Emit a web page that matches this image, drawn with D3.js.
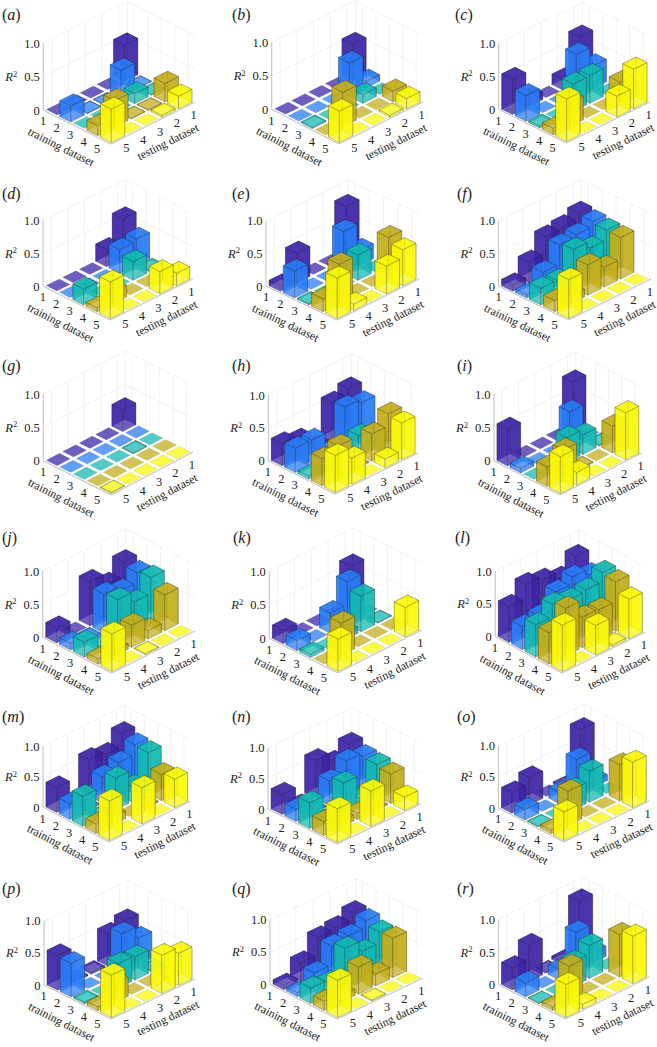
<!DOCTYPE html>
<html>
<head>
<meta charset="utf-8">
<script src="https://cdn.jsdelivr.net/npm/d3@7/dist/d3.min.js"></script>
<style>
	html, body { margin: 0; padding: 0; background: #fff; }
	text { font-family: "Liberation Serif", "Times New Roman", serif; fill: #222; }
</style>
</head>
<body>
<div id="chart"></div>
<script>
// categories and ticks
var panelLetters = ["a", "b", "c", "d", "e", "f", "g", "h", "i", "j", "k", "l", "m", "n", "o", "p", "q", "r"];
var trainingTicks = [1, 2, 3, 4, 5];
var testingTicks = [5, 4, 3, 2, 1];
var r2Ticks = [0, 0.5, 1];

// R2 values, one row per training dataset, columns are testing dataset 1..5
var r2_a = [[.55,.005,.005,.005,.005],[.01,.40,.01,.01,.24],[.01,.15,.005,.005,.005],[.28,.01,.01,.40,.15],[.19,.03,.005,.005,.50]];
var r2_b = [[.55,.005,.005,.005,.005],[.10,.50,.005,.005,.005],[.005,.13,.005,.005,.02],[.16,.005,.005,.52,.005],[.155,.03,.005,.005,.47]];
var r2_c = [[.68,.16,.005,.12,.535],[.345,.64,.005,.005,.39],[.005,.425,.42,.005,.03],[.30,.005,.005,.36,.10],[.60,.315,.005,.005,.645]];
var r2_d = [[.61,.265,.005,.005,.005],[.40,.365,.005,.005,.005],[.03,.285,.005,.005,.24],[.01,.005,.005,.18,.06],[.19,.34,.005,.005,.56]];
var r2_e = [[.80,.005,.005,.46,.085],[.23,.645,.005,.005,.415],[.005,.385,.005,.005,.02],[.635,.005,.005,.60,.195],[.55,.425,.005,.095,.62]];
var r2_f = [[.695,.615,.585,.325,.10],[.67,.595,.56,.27,.055],[.645,.495,.60,.25,.255],[.635,.305,.465,.12,.17],[.005,.005,.005,.005,.595]];
var r2_g = [[.325,.005,.005,.005,.005],[.005,.005,.005,.005,.005],[.005,.015,.005,.005,.005],[.005,.005,.005,.005,.005],[.005,.005,.005,.005,.015]];
var r2_h = [[.675,.585,.05,.27,.34],[.565,.625,.02,.37,.37],[.02,.29,.02,.02,.05],[.595,.415,.02,.485,.415],[.56,.135,.005,.40,.565]];
var r2_i = [[.76,.005,.005,.005,.555],[.005,.54,.005,.005,.07],[.02,.295,.38,.02,.005],[.405,.005,.02,.425,.30],[.71,.005,.005,.19,.555]];
var r2_j = [[.715,.50,.67,.005,.22],[.66,.51,.59,.03,.10],[.695,.455,.615,.03,.225],[.54,.13,.335,.08,.08],[.005,.005,.015,.005,.565]];
var r2_k = [[.64,.005,.005,.005,.195],[.005,.64,.305,.005,.15],[.01,.53,.10,.005,.05],[.005,.005,.005,.485,.005],[.44,.005,.005,.005,.48]];
var r2_l = [[.805,.60,.695,.755,.545],[.64,.73,.63,.385,.35],[.785,.645,.62,.675,.49],[.755,.455,.465,.725,.48],[.60,.03,.45,.005,.705]];
var r2_m = [[.76,.55,.60,.005,.405],[.69,.53,.435,.02,.26],[.675,.25,.525,.02,.495],[.43,.02,.005,.13,.155],[.47,.005,.60,.005,.65]];
var r2_n = [[.625,.46,.62,.01,.33],[.54,.60,.40,.02,.20],[.52,.10,.48,.02,.42],[.48,.02,.10,.10,.23],[.22,.005,.58,.005,.55]];
var r2_o = [[.82,.02,.005,.44,.33],[.10,.58,.18,.005,.17],[.005,.50,.34,.005,.01],[.58,.005,.005,.55,.06],[.73,.005,.005,.005,.46]];
var r2_p = [[.585,.50,.03,.02,.54],[.42,.615,.005,.005,.525],[.02,.36,.375,.005,.03],[.02,.005,.005,.30,.06],[.50,.595,.005,.005,.66]];
var r2_q = [[.685,.58,.55,.29,.07],[.67,.56,.53,.24,.06],[.60,.43,.60,.20,.24],[.61,.185,.42,.10,.145],[.005,.005,.015,.005,.575]];
var r2_r = [[.85,.05,.01,.555,.34],[.16,.60,.16,.005,.21],[.005,.505,.38,.005,.01],[.65,.005,.005,.55,.055],[.73,.005,.005,.07,.505]];
var panelValues = [r2_a, r2_b, r2_c, r2_d, r2_e, r2_f, r2_g, r2_h, r2_i, r2_j, r2_k, r2_l, r2_m, r2_n, r2_o, r2_p, r2_q, r2_r];

// layout of each panel: floor left, front and right corners, height of R2 = 1, panel letter position
var frames = [
	{L: [43.3, 110], F: [111, 144], R: [195, 102], zu: 66.7, tag: [2, 20]},
	{L: [271.7, 109.3], F: [339, 144], R: [423, 102], zu: 66.7, tag: [232, 20]},
	{L: [498.7, 109.3], F: [566.3, 143], R: [650, 102], zu: 66, tag: [455, 20]},
	{L: [43.1, 286], F: [110, 320], R: [192.7, 279], zu: 65.3, tag: [2, 199]},
	{L: [266, 286], F: [337, 320], R: [419, 279], zu: 65.3, tag: [232, 199]},
	{L: [498.5, 286], F: [568.5, 320], R: [651, 279], zu: 65.3, tag: [457, 199]},
	{L: [43.3, 460.7], F: [111, 495], R: [193, 452], zu: 66.7, tag: [2, 371]},
	{L: [268.3, 460.7], F: [335, 494], R: [418, 453], zu: 65.7, tag: [232, 371]},
	{L: [494, 460.7], F: [560, 495], R: [641.7, 453], zu: 66.3, tag: [457, 371]},
	{L: [42.7, 637.3], F: [111.7, 673], R: [195, 631], zu: 66.3, tag: [2, 543]},
	{L: [269.3, 638.3], F: [337.7, 673], R: [421.7, 630], zu: 67.3, tag: [233, 543]},
	{L: [495.3, 636.7], F: [562, 673], R: [645.3, 632], zu: 65.7, tag: [455, 543]},
	{L: [43, 807], F: [109, 842], R: [190.6, 801], zu: 60.7, tag: [2, 722]},
	{L: [268, 809], F: [337, 844], R: [421, 804], zu: 61.3, tag: [232, 722]},
	{L: [498.5, 808], F: [563.5, 842], R: [649.3, 801], zu: 62.3, tag: [457, 722]},
	{L: [44, 985], F: [111, 1019], R: [195, 979], zu: 64.3, tag: [2, 894]},
	{L: [270, 984.3], F: [337.2, 1019], R: [423, 978], zu: 64.7, tag: [232, 894]},
	{L: [498.5, 984.7], F: [565.6, 1019], R: [649.3, 977], zu: 65.3, tag: [457, 894]}
];

var rowColors = ["#3e26a8", "#2a7cf6", "#14b9b2", "#c4ae1c", "#fbf80a"];
var barHalf = 0.4;
var faceAlpha = 0.74;
var tileLimit = 0.008;

var svg = d3.select("#chart").append("svg")
	.attr("width", 657)
	.attr("height", 1047)
	.style("display", "block");

panelLetters.forEach(function(letter, p) {
	drawPanel(letter, panelValues[p], frames[p]);
});

function drawPanel(letter, values, frame) {
	var g = svg.append("g").attr("class", "panel-" + letter);
	var L = frame.L, F = frame.F, R = frame.R;

	// oblique projection, one scale per screen component
	var trainX = d3.scaleLinear().domain([0.5, 5.5]).range([0, F[0] - L[0]]);
	var trainY = d3.scaleLinear().domain([0.5, 5.5]).range([0, F[1] - L[1]]);
	var testX = d3.scaleLinear().domain([5.5, 0.5]).range([0, R[0] - F[0]]);
	var testY = d3.scaleLinear().domain([5.5, 0.5]).range([0, R[1] - F[1]]);
	var zScale = d3.scaleLinear().domain([0, 1]).range([0, frame.zu]);

	function project(t, s, z) {
		return [L[0] + trainX(t) + testX(s), L[1] + trainY(t) + testY(s) - zScale(z)];
	}
	var line = d3.line();

	function wallLine(a, b, color, width) {
		g.append("path")
			.attr("d", line([a, b]))
			.attr("fill", "none")
			.attr("stroke", color)
			.attr("stroke-width", width);
	}

	// grid on the two back walls
	var gridColor = "#ececec";
	testingTicks.forEach(function(s) {
		wallLine(project(0.5, s, 0), project(0.5, s, 1), gridColor, 0.7);
	});
	trainingTicks.forEach(function(t) {
		wallLine(project(t, 0.5, 0), project(t, 0.5, 1), gridColor, 0.7);
	});
	r2Ticks.forEach(function(v) {
		if (v == 0) return;
		wallLine(project(0.5, 5.5, v), project(0.5, 0.5, v), gridColor, 0.7);
		wallLine(project(0.5, 0.5, v), project(5.5, 0.5, v), gridColor, 0.7);
	});
	wallLine(project(0.5, 0.5, 0), project(0.5, 0.5, 1), gridColor, 0.7);

	// axis lines
	var axisColor = "#c4c4c4";
	wallLine(project(0.5, 5.5, 0), project(0.5, 5.5, 1), axisColor, 1.1);
	wallLine(project(0.5, 5.5, 0), project(5.5, 5.5, 0), axisColor, 1.1);
	wallLine(project(5.5, 5.5, 0), project(5.5, 0.5, 0), axisColor, 1.1);

	// bars from the back corner to the front corner
	trainingTicks.forEach(function(t, ti) {
		[1, 2, 3, 4, 5].forEach(function(s) {
			var v = values[ti][s - 1];
			var a0 = t - barHalf, a1 = t + barHalf, b0 = s - barHalf, b1 = s + barHalf;
			var top = [[a0, b0, v], [a1, b0, v], [a1, b1, v], [a0, b1, v]];
			// a flat tile only shows its top
			var faces = v <= tileLimit ? [top] : [
				[[a0, b0, 0], [a1, b0, 0], [a1, b0, v], [a0, b0, v]],
				[[a0, b0, 0], [a0, b1, 0], [a0, b1, v], [a0, b0, v]],
				[[a0, b1, 0], [a1, b1, 0], [a1, b1, v], [a0, b1, v]],
				[[a1, b0, 0], [a1, b1, 0], [a1, b1, v], [a1, b0, v]],
				top
			];
			g.append("g").selectAll("path")
				.data(faces)
				.enter().append("path")
				.attr("d", function(d) {
					return line(d.map(function(c) { return project(c[0], c[1], c[2]); })) + "Z";
				})
				.attr("fill", rowColors[ti])
				.attr("fill-opacity", faceAlpha)
				.attr("stroke", "#1a1a1a")
				.attr("stroke-opacity", v <= tileLimit ? 0.15 : 0.45)
				.attr("stroke-width", 0.5)
				.attr("stroke-linejoin", "round");
		});
	});

	// z tick labels
	g.selectAll("text.ztick")
		.data(r2Ticks)
		.enter().append("text")
		.attr("class", "ztick")
		.attr("x", L[0] - 3.5)
		.attr("y", function(d) { return L[1] - zScale(d) + 4.5; })
		.attr("text-anchor", "end")
		.style("font-size", "12.5px")
		.text(function(d) { return d == 0 ? "0" : d.toFixed(1); });

	// R2 label
	var r2Label = g.append("text")
		.attr("x", L[0] - 38)
		.attr("y", L[1] - zScale(0.5) + 4.5)
		.style("font-size", "12.5px");
	r2Label.append("tspan").style("font-style", "italic").text("R");
	r2Label.append("tspan").attr("dy", -4.5).style("font-size", "8.5px").text("2");

	// floor tick labels
	g.selectAll("text.trainTick")
		.data(trainingTicks)
		.enter().append("text")
		.attr("class", "trainTick")
		.attr("x", function(d) { return project(d, 5.5, 0)[0] - 7; })
		.attr("y", function(d) { return project(d, 5.5, 0)[1] + 12; })
		.attr("text-anchor", "middle")
		.style("font-size", "12.5px")
		.text(function(d) { return d; });
	g.selectAll("text.testTick")
		.data(testingTicks)
		.enter().append("text")
		.attr("class", "testTick")
		.attr("x", function(d) { return project(5.5, d, 0)[0] + 7; })
		.attr("y", function(d) { return project(5.5, d, 0)[1] + 12.5; })
		.attr("text-anchor", "middle")
		.style("font-size", "12.5px")
		.text(function(d) { return d; });

	// axis names run along the floor edges
	var trainAngle = Math.atan2(F[1] - L[1], F[0] - L[0]) * 180 / Math.PI;
	var testAngle = Math.atan2(R[1] - F[1], R[0] - F[0]) * 180 / Math.PI;
	var mt = [(L[0] + F[0]) / 2 - 16, (L[1] + F[1]) / 2 + 20];
	var ms = [(F[0] + R[0]) / 2 + 15, (F[1] + R[1]) / 2 + 19];
	g.append("text")
		.attr("transform", "translate(" + mt[0] + "," + mt[1] + ") rotate(" + trainAngle + ")")
		.attr("text-anchor", "middle")
		.attr("dy", "0.32em")
		.style("font-size", "11.8px")
		.text("training dataset");
	g.append("text")
		.attr("transform", "translate(" + ms[0] + "," + ms[1] + ") rotate(" + testAngle + ")")
		.attr("text-anchor", "middle")
		.attr("dy", "0.32em")
		.style("font-size", "11.8px")
		.text("testing dataset");

	// panel letter
	var tag = g.append("text")
		.attr("x", frame.tag[0])
		.attr("y", frame.tag[1])
		.style("font-size", "16px");
	tag.append("tspan").text("(");
	tag.append("tspan").style("font-style", "italic").text(letter);
	tag.append("tspan").text(")");
}
</script>
</body>
</html>
